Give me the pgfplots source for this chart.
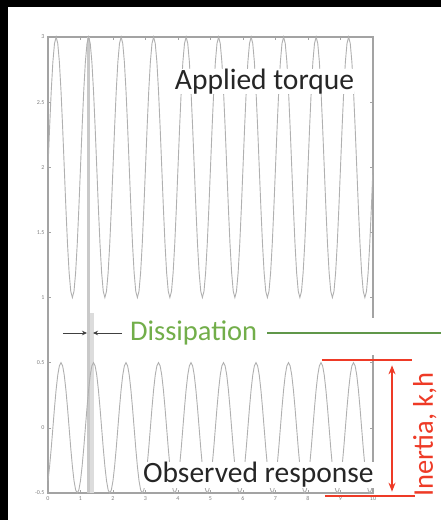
\documentclass[border=0pt]{standalone}
\usepackage{pgfplots}
\pgfplotsset{compat=1.18}
\usepackage{pgfplotstable}
\usepackage{fontspec}
\setmainfont{Carlito}
\usetikzlibrary{arrows.meta}
\definecolor{curve}{HTML}{B0B0B0}
\definecolor{axgray}{HTML}{A3A3A3}
\definecolor{bandA}{HTML}{C9C9C9}
\definecolor{bandB}{HTML}{DCDCDC}
\definecolor{tgreen}{HTML}{72AE4A}
\definecolor{lgreen}{HTML}{60974A}
\definecolor{ired}{HTML}{EE3A26}
\definecolor{txt}{HTML}{262626}
\definecolor{arr}{HTML}{404040}

\pgfplotstableread{
x u l
0.00 2 -0.405
0.05 2.309 -0.294
0.10 2.588 -0.155
0.15 2.809 0
0.20 2.951 0.155
0.25 3 0.294
0.30 2.951 0.405
0.35 2.809 0.476
0.40 2.588 0.5
0.45 2.309 0.476
0.50 2 0.405
0.55 1.691 0.294
0.60 1.412 0.155
0.65 1.191 0
0.70 1.049 -0.155
0.75 1 -0.294
0.80 1.049 -0.405
0.85 1.191 -0.476
0.90 1.412 -0.5
0.95 1.691 -0.476
1.00 2 -0.405
1.05 2.309 -0.294
1.10 2.588 -0.155
1.15 2.809 0
1.20 2.951 0.155
1.25 3 0.294
1.30 2.951 0.405
1.35 2.809 0.476
1.40 2.588 0.5
1.45 2.309 0.476
1.50 2 0.405
1.55 1.691 0.294
1.60 1.412 0.155
1.65 1.191 0
1.70 1.049 -0.155
1.75 1 -0.294
1.80 1.049 -0.405
1.85 1.191 -0.476
1.90 1.412 -0.5
1.95 1.691 -0.476
2.00 2 -0.405
2.05 2.309 -0.294
2.10 2.588 -0.155
2.15 2.809 0
2.20 2.951 0.155
2.25 3 0.294
2.30 2.951 0.405
2.35 2.809 0.476
2.40 2.588 0.5
2.45 2.309 0.476
2.50 2 0.405
2.55 1.691 0.294
2.60 1.412 0.155
2.65 1.191 0
2.70 1.049 -0.155
2.75 1 -0.294
2.80 1.049 -0.405
2.85 1.191 -0.476
2.90 1.412 -0.5
2.95 1.691 -0.476
3.00 2 -0.405
3.05 2.309 -0.294
3.10 2.588 -0.155
3.15 2.809 0
3.20 2.951 0.155
3.25 3 0.294
3.30 2.951 0.405
3.35 2.809 0.476
3.40 2.588 0.5
3.45 2.309 0.476
3.50 2 0.405
3.55 1.691 0.294
3.60 1.412 0.155
3.65 1.191 0
3.70 1.049 -0.155
3.75 1 -0.294
3.80 1.049 -0.405
3.85 1.191 -0.476
3.90 1.412 -0.5
3.95 1.691 -0.476
4.00 2 -0.405
4.05 2.309 -0.294
4.10 2.588 -0.155
4.15 2.809 0
4.20 2.951 0.155
4.25 3 0.294
4.30 2.951 0.405
4.35 2.809 0.476
4.40 2.588 0.5
4.45 2.309 0.476
4.50 2 0.405
4.55 1.691 0.294
4.60 1.412 0.155
4.65 1.191 0
4.70 1.049 -0.155
4.75 1 -0.294
4.80 1.049 -0.405
4.85 1.191 -0.476
4.90 1.412 -0.5
4.95 1.691 -0.476
5.00 2 -0.405
5.05 2.309 -0.294
5.10 2.588 -0.155
5.15 2.809 0
5.20 2.951 0.155
5.25 3 0.294
5.30 2.951 0.405
5.35 2.809 0.476
5.40 2.588 0.5
5.45 2.309 0.476
5.50 2 0.405
5.55 1.691 0.294
5.60 1.412 0.155
5.65 1.191 0
5.70 1.049 -0.155
5.75 1 -0.294
5.80 1.049 -0.405
5.85 1.191 -0.476
5.90 1.412 -0.5
5.95 1.691 -0.476
6.00 2 -0.405
6.05 2.309 -0.294
6.10 2.588 -0.155
6.15 2.809 0
6.20 2.951 0.155
6.25 3 0.294
6.30 2.951 0.405
6.35 2.809 0.476
6.40 2.588 0.5
6.45 2.309 0.476
6.50 2 0.405
6.55 1.691 0.294
6.60 1.412 0.155
6.65 1.191 0
6.70 1.049 -0.155
6.75 1 -0.294
6.80 1.049 -0.405
6.85 1.191 -0.476
6.90 1.412 -0.5
6.95 1.691 -0.476
7.00 2 -0.405
7.05 2.309 -0.294
7.10 2.588 -0.155
7.15 2.809 0
7.20 2.951 0.155
7.25 3 0.294
7.30 2.951 0.405
7.35 2.809 0.476
7.40 2.588 0.5
7.45 2.309 0.476
7.50 2 0.405
7.55 1.691 0.294
7.60 1.412 0.155
7.65 1.191 0
7.70 1.049 -0.155
7.75 1 -0.294
7.80 1.049 -0.405
7.85 1.191 -0.476
7.90 1.412 -0.5
7.95 1.691 -0.476
8.00 2 -0.405
8.05 2.309 -0.294
8.10 2.588 -0.155
8.15 2.809 0
8.20 2.951 0.155
8.25 3 0.294
8.30 2.951 0.405
8.35 2.809 0.476
8.40 2.588 0.5
8.45 2.309 0.476
8.50 2 0.405
8.55 1.691 0.294
8.60 1.412 0.155
8.65 1.191 0
8.70 1.049 -0.155
8.75 1 -0.294
8.80 1.049 -0.405
8.85 1.191 -0.476
8.90 1.412 -0.5
8.95 1.691 -0.476
9.00 2 -0.405
9.05 2.309 -0.294
9.10 2.588 -0.155
9.15 2.809 0
9.20 2.951 0.155
9.25 3 0.294
9.30 2.951 0.405
9.35 2.809 0.476
9.40 2.588 0.5
9.45 2.309 0.476
9.50 2 0.405
9.55 1.691 0.294
9.60 1.412 0.155
9.65 1.191 0
9.70 1.049 -0.155
9.75 1 -0.294
9.80 1.049 -0.405
9.85 1.191 -0.476
9.90 1.412 -0.5
9.95 1.691 -0.476
10.00 2 -0.405
}\waves

\begin{document}
\begin{tikzpicture}[x=1pt,y=1pt]
\useasboundingbox (0,0) rectangle (441,520);
\fill[black] (0,0) rectangle (441,520);
\fill[white] (8,0) rectangle (441,513);
\begin{axis}[
  at={(48pt,27pt)}, anchor=south west,
  width=325pt, height=456pt, scale only axis,
  xmin=0, xmax=10, ymin=-0.5, ymax=3,
  xtick={0,1,...,10}, ytick={-0.5,0,0.5,1,1.5,2,2.5,3},
  axis line style={axgray, line width=1.1pt},
  tick style={axgray, line width=0.7pt},
  major tick length=3pt,
  tick align=inside,
  ticklabel style={font=\fontsize{6}{7}\selectfont, text=gray},
  /pgf/number format/assume math mode=true,
  clip=false,
]
\addplot[draw=none, fill=bandA] coordinates {(1.2,-0.5) (1.29,-0.5) (1.29,3) (1.2,3)} -- cycle;
\addplot[draw=none, fill=bandB] coordinates {(1.29,-0.5) (1.42,-0.5) (1.42,0.88) (1.29,0.88)} -- cycle;
\addplot[curve, line width=0.9pt] table[x=x, y=u] {\waves};
\addplot[curve, line width=0.9pt] table[x=x, y=l] {\waves};
\draw[arr, line width=0.8pt, -{Stealth[length=5pt,width=4.5pt]}] (axis cs:0.46,0.728) -- (axis cs:1.2,0.728);
\draw[arr, line width=0.8pt, -{Stealth[length=5pt,width=4.5pt]}] (axis cs:2.28,0.728) -- (axis cs:1.385,0.728);
\draw[ired, line width=1.4pt] (axis cs:8.43,0.52) -- (axis cs:11.2,0.52);
\draw[ired, line width=1.4pt] (axis cs:8.52,-0.523) -- (axis cs:11.29,-0.523);
\draw[ired, line width=1.4pt, {Stealth[length=9pt,width=7pt]}-{Stealth[length=9pt,width=7pt]}] (axis cs:10.585,0.48) -- (axis cs:10.585,-0.49);
\coordinate (applied) at (axis cs:3.9,2.6);
\coordinate (observed) at (axis cs:2.92,-0.423);
\coordinate (diss) at (axis cs:2.52,0.667);
\coordinate (inertia) at (axis cs:11.84,-0.53);
\coordinate (gapA) at (axis cs:9.94,0.56);
\coordinate (gapB) at (axis cs:10.06,0.84);
\coordinate (gl1) at (axis cs:6.74,0.728);
\coordinate (gl2) at (axis cs:12.3,0.728);
\end{axis}
\fill[white] (gapA) rectangle (gapB);
\draw[lgreen, line width=1.5pt] (gl1) -- (gl2);
\node[anchor=base west, inner sep=0pt, fill=white, text=txt, font=\fontsize{29.5}{30}\selectfont] at (applied) {Applied torque};
\node[anchor=base west, inner sep=0pt, fill=white, text=txt, font=\fontsize{29.5}{30}\selectfont] at (observed) {Observed response};
\node[anchor=base west, inner sep=0pt, text=tgreen, font=\fontsize{28.5}{30}\selectfont] at (diss) {Dissipation};
\node[anchor=base west, inner sep=0pt, rotate=90, text=ired, font=\fontsize{28.5}{30}\selectfont] at (inertia) {Inertia, k,h};
\end{tikzpicture}
\end{document}
